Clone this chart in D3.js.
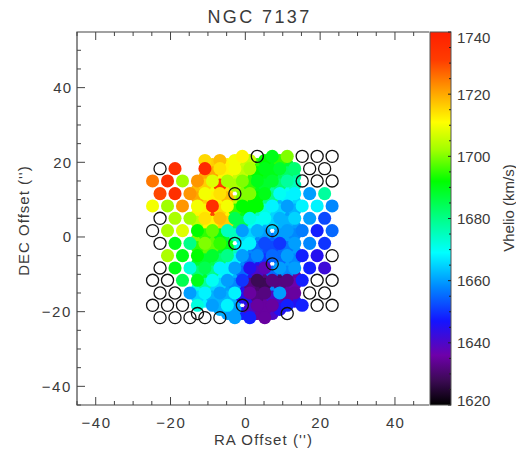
<!DOCTYPE html>
<html><head><meta charset="utf-8">
<script src="https://cdn.jsdelivr.net/npm/d3@7"></script>
<style>body{margin:0;background:#fff}svg{display:block}text{font-family:"Liberation Sans",Arial,sans-serif;fill:#3a3a3a}</style>
</head><body>
<script>
// ---- data (arcsec offsets, km/s) ----
const title = "NGC 7137";
const xTicks = [-40, -20, 0, 20, 40];
const yTicks = [-40, -20, 0, 20, 40];
const cbTicks = [1620, 1640, 1660, 1680, 1700, 1720, 1740];
// dither A fibre rows
const rowDec = [21.6, 18.3, 15.0, 11.6, 8.3, 5.0, 1.7, -1.7, -5.0, -8.3, -11.6, -15.0, -18.3, -21.6];
const evenRA = [-24.8, -20.8, -16.8, -12.8, -8.8, -4.8, -0.8, 3.2, 7.2, 11.2, 15.2, 19.2, 23.2];
const oddRA = [-22.8, -18.8, -14.8, -10.8, -6.8, -2.8, 1.2, 5.2, 9.2, 13.2, 17.2, 21.2];
// dithers B and C (same rows, shifted)
const rowDecB = [20.5, 17.2, 13.9, 10.5, 7.2, 3.9, 0.6, -2.8, -6.1, -9.4, -12.7, -16.1, -19.4, -22.7];
const rowDecC = [22.7, 19.4, 16.1, 12.7, 9.4, 6.1, 2.8, -0.6, -3.9, -7.2, -10.5, -13.9, -17.2, -20.5];
const evenRAShift = [-22.8, -18.8, -14.8, -10.8, -6.8, -2.8, 1.2, 5.2, 9.2, 13.2, 17.2, 21.2, 25.2];
const oddRAShift = [-20.8, -16.8, -12.8, -8.8, -4.8, -0.8, 3.2, 7.2, 11.2, 15.2, 19.2, 23.2];
// 0 = empty fibre (open circle), -1 = no fibre
const velA = [
  [-1, -1, -1, -1, -1, -1, 1712, 0, 1690, 1700, 0, 0, 0],
  [0, 1735, -1, 1737, 1714, 1710, 1703, 1690, 1688, 1682, 0, 0],
  [1725, 1735, 1702, 1722, 1708, 1703, 1700, 1690, 1688, 1678, 0, 0, 0],
  [1730, 1735, 1722, 1710, 1714, 0, 1700, 1690, 1670, 1668, 1660, 1678],
  [1710, 1702, 1722, 1710, 1735, 1710, 1692, 1692, 1668, 1660, 1668, 1668, 1658],
  [0, 1703, 1702, 1714, 1718, 1685, 1672, 1670, 1662, 1665, 1660, 1652],
  [0, 1703, 1708, 1692, 1698, 1675, 1660, 1662, 0, 1660, 1657, 1648, 1655],
  [0, 1690, 1680, 1700, 1695, 0, 1668, 1652, 1650, 1660, 1658, 1650],
  [-1, 1703, 1690, 1692, 1688, 1680, 1660, 1658, 1655, 1660, 1648, 1645, 0],
  [0, 1690, 1672, 1685, 1668, 1660, 1645, 1638, 1660, 1660, 1648, 1642],
  [0, 0, 1685, 1690, 1670, 1660, 1650, 1628, 1632, 1632, 1648, 0, 0],
  [0, 0, 1660, 1668, 1660, 1668, 1635, 1632, 1660, 1635, 0, 0],
  [0, 0, 0, 1672, 1660, 1668, 0, 1635, 1635, 1648, 1648, 0, 0],
  [0, 0, 0, 0, 0, 1660, 1648, 1635, -1, -1, -1, -1]
];
const velB = [
  [-1, -1, -1, 1715, 1718, 1710, 1705, 1692, 1695, -1, -1, -1, -1],
  [-1, -1, -1, 1720, 1712, 1705, 1692, 1690, 1683, -1, -1, -1],
  [-1, -1, -1, 1716, 1732, 1703, 1695, 1688, 1682, 1675, -1, -1, -1],
  [-1, -1, 1720, 1712, 1718, 1700, 1692, 1680, 1668, -1, -1, -1],
  [-1, -1, -1, 1712, 1715, 1695, 1692, 1672, 1665, 1662, -1, -1, -1],
  [-1, -1, 1705, 1712, 1716, 1685, 1670, 1665, 1662, -1, -1, -1],
  [-1, -1, -1, 1695, 1690, 1675, 1665, 1660, 1660, 1658, -1, -1, -1],
  [-1, -1, 1695, 1698, 1690, 1668, 1655, 1652, 1656, -1, -1, -1],
  [-1, -1, -1, 1688, 1682, 1668, 1655, 1650, 1655, 1658, -1, -1, -1],
  [-1, -1, 1682, 1680, 1668, 1655, 1640, 1655, 1658, -1, -1, -1],
  [-1, -1, -1, 1678, 1665, 1658, 1632, 1628, 1632, 1636, -1, -1, -1],
  [-1, -1, 1665, 1662, 1662, 1645, 1632, 1640, 1635, -1, -1, -1],
  [-1, -1, -1, -1, 1662, 1660, 1640, 1635, 1645, -1, -1, -1, -1],
  [-1, -1, -1, -1, -1, -1, -1, -1, -1, -1, -1, -1]
];
const velC = [
  [-1, -1, -1, -1, -1, -1, -1, -1, -1, -1, -1, -1, -1],
  [-1, -1, -1, 1716, 1712, 1706, 1695, 1690, 1688, -1, -1, -1],
  [-1, -1, -1, 1720, 1710, 1706, 1695, 1690, 1685, 1678, -1, -1, -1],
  [-1, -1, 1718, 1710, 1714, 1700, 1690, 1678, 1670, -1, -1, -1],
  [-1, -1, -1, 1716, 1712, 1705, 1692, 1680, 1662, 1665, -1, -1, -1],
  [-1, -1, 1712, 1730, 1712, 1690, 1675, 1665, 1660, -1, -1, -1],
  [-1, -1, -1, 1712, 1716, 1684, 1670, 1662, 1662, 1660, -1, -1, -1],
  [-1, -1, 1700, 1698, 1688, 1665, 1658, 1655, 1660, -1, -1, -1],
  [-1, -1, -1, 1698, 1688, 1675, 1658, 1652, 1655, 1660, -1, -1, -1],
  [-1, -1, 1688, 1685, 1668, 1658, 1645, 0, 1660, -1, -1, -1],
  [-1, -1, -1, 1688, 1670, 1662, 1645, 1632, 1630, 1635, -1, -1, -1],
  [-1, -1, 1672, 1665, 1660, 1645, 1630, 1658, 1635, -1, -1, -1],
  [-1, -1, -1, 1668, 1662, 1662, 1645, 1635, 1640, 1645, -1, -1, -1],
  [-1, -1, 0, -1, 1660, 1648, 1635, 1640, 0, -1, -1, -1]
];
const cmapVals = [1620, 1628, 1636, 1647, 1658, 1669, 1680, 1692, 1702, 1711, 1722, 1731, 1740];
const cmapCols = ["#000000", "#3c0a55", "#6e00aa", "#1414ff", "#0088ff", "#00ffff", "#00ff88", "#00ff00", "#a0ff00", "#ffff00", "#ff9600", "#ff3c00", "#ff1e00"];

// ---- layout ----
const W = 516, H = 452;
const svg = d3.select("body").append("svg").attr("width", W).attr("height", H);
const x = d3.scaleLinear().domain([-45, 49.1]).range([77, 429]);
const y = d3.scaleLinear().domain([-45, 54.9]).range([405, 32]);
const color = d3.scaleLinear().domain(cmapVals).range(cmapCols).clamp(true);
const cb = d3.scaleLinear().domain([1620, 1740]).range([405, 32]);
const rad = x(1.75) - x(0);

const pts = [];
function addLayer(vel, decs, raEven, raOdd) {
  vel.forEach((row, i) => {
    const ras = row.length === 13 ? raEven : raOdd;
    row.forEach((v, k) => { if (v !== -1) pts.push({ra: ras[k], dec: decs[i], v}); });
  });
}
addLayer(velC, rowDecC, evenRAShift, oddRAShift);
addLayer(velB, rowDecB, evenRAShift, oddRAShift);
addLayer(velA, rowDec, evenRA, oddRA);

const g = svg.append("g");
g.selectAll("circle.f").data(pts.filter(d => d.v > 0)).join("circle")
  .attr("cx", d => x(d.ra)).attr("cy", d => y(d.dec)).attr("r", rad)
  .attr("fill", d => color(d.v));
g.selectAll("circle.o").data(pts.filter(d => d.v === 0)).join("circle")
  .attr("cx", d => x(d.ra)).attr("cy", d => y(d.dec)).attr("r", rad - 0.5)
  .attr("fill", "none").attr("stroke", "#111").attr("stroke-width", 1.3);

// frame
const axc = "#444";
svg.append("path").attr("d", `M429,32H77V405H429`).attr("fill", "none").attr("stroke", axc).attr("stroke-width", 1.2);
d3.range(-45, 46, 5).forEach(t => {
  const len = t % 20 === 0 ? 8 : 4;
  svg.append("line").attr("x1", x(t)).attr("x2", x(t)).attr("y1", 405).attr("y2", 405 - len).attr("stroke", axc);
  svg.append("line").attr("x1", x(t)).attr("x2", x(t)).attr("y1", 32).attr("y2", 32 + len).attr("stroke", axc);
});
d3.range(-45, 55, 5).forEach(t => {
  const len = t % 20 === 0 ? 8 : 4;
  svg.append("line").attr("x1", 77).attr("x2", 77 + len).attr("y1", y(t)).attr("y2", y(t)).attr("stroke", axc);
});
const fmt = v => v < 0 ? "\u2212" + Math.abs(v) : String(v);
svg.selectAll("text.xt").data(xTicks).join("text").attr("x", d => x(d) + (d < 0 ? 0.8 : 0.5)).attr("y", 428)
  .attr("text-anchor", "middle").attr("font-size", 15).attr("letter-spacing", d => d < 0 ? 1.6 : 1).text(fmt);
svg.selectAll("text.yt").data(yTicks).join("text").attr("x", 72).attr("y", d => y(d) + 5.5)
  .attr("text-anchor", "end").attr("font-size", 15).attr("letter-spacing", d => d < 0 ? 1.6 : 1).text(fmt);
svg.append("text").attr("x", 263.5).attr("y", 445).attr("text-anchor", "middle").attr("font-size", 15)
  .attr("letter-spacing", 1.1).text("RA Offset ('')");
svg.append("text").attr("transform", "translate(29,220.5) rotate(-90)").attr("text-anchor", "middle")
  .attr("font-size", 15).attr("letter-spacing", 1).text("DEC Offset ('')");
svg.append("text").attr("x", 259.5).attr("y", 23).attr("text-anchor", "middle").attr("font-size", 18)
  .attr("letter-spacing", 2.4).text(title);

// colorbar
const defs = svg.append("defs");
const lg = defs.append("linearGradient").attr("id", "cbg").attr("x1", 0).attr("x2", 0).attr("y1", 1).attr("y2", 0);
cmapVals.forEach((v, i) => lg.append("stop").attr("offset", (v - 1620) / 120).attr("stop-color", cmapCols[i]));
svg.append("rect").attr("x", 430).attr("y", 32).attr("width", 21).attr("height", 373).attr("fill", "url(#cbg)")
  .attr("stroke", "#555").attr("stroke-width", 1);
d3.range(1620, 1741, 5).forEach(t => {
  const len = t % 20 === 0 ? 3 : 2;
  svg.append("line").attr("x1", 451 - len).attr("x2", 451).attr("y1", cb(t)).attr("y2", cb(t)).attr("stroke", "#222");
});
svg.selectAll("text.ct").data(cbTicks).join("text").attr("x", 457)
  .attr("y", d => Math.min(Math.max(cb(d), 37), 400) + 5.5).attr("font-size", 15).text(d => d);
svg.append("text").attr("transform", "translate(514,208) rotate(-90)").attr("text-anchor", "middle")
  .attr("font-size", 15).text("Vhelio (km/s)");
</script>
</body></html>
